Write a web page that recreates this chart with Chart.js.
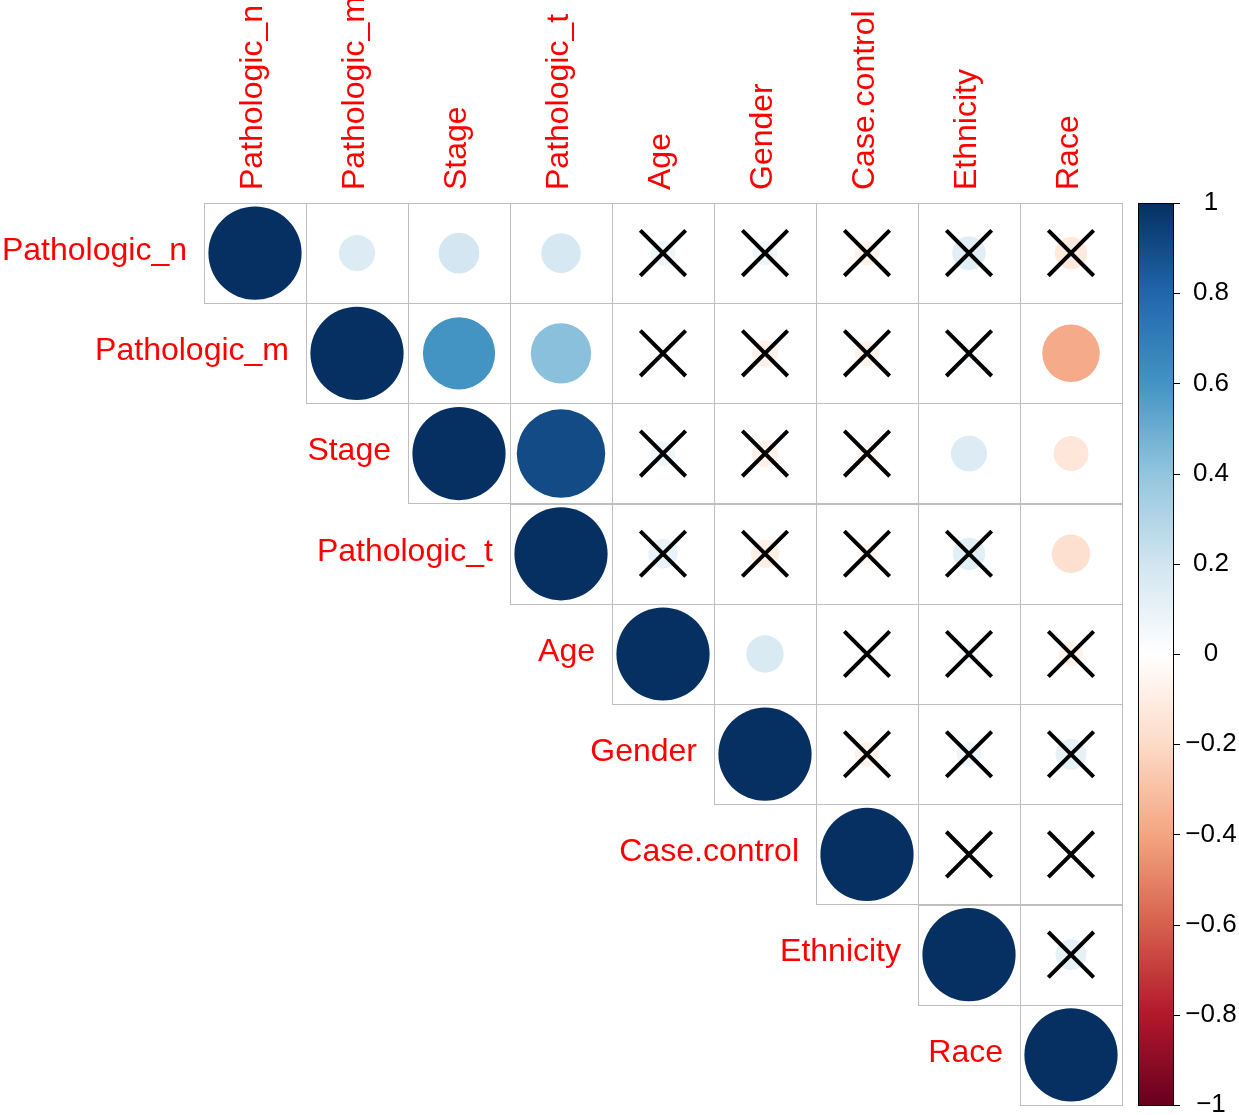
<!DOCTYPE html>
<html>
<head>
<meta charset="utf-8">
<script src="https://cdn.jsdelivr.net/npm/chart.js@4/dist/chart.umd.min.js"></script>
<style>
  html, body { margin: 0; padding: 0; background: #fff; overflow: hidden; }
  canvas { display: block; }
</style>
</head>
<body>
<canvas id="myChart" width="1239" height="1115"></canvas>
<script>
// variables, in plot order
var labels = ['Pathologic_n', 'Pathologic_m', 'Stage', 'Pathologic_t', 'Age', 'Gender', 'Case.control', 'Ethnicity', 'Race'];

// upper triangle of the correlation matrix, row by row (row i starts at column i)
var rowPathN  = [1, 0.15, 0.19, 0.18, 0.07, 0.07, -0.07, 0.13, -0.12];
var rowPathM  = [1, 0.60, 0.42, 0.03, -0.08, -0.07, 0.03, -0.38];
var rowStage  = [1, 0.90, 0.07, -0.08, -0.05, 0.15, -0.14];
var rowPathT  = [1, 0.10, -0.09, -0.05, 0.12, -0.17];
var rowAge    = [1, 0.16, 0.02, 0.05, -0.07];
var rowGender = [1, -0.07, 0.07, 0.11];
var rowCase   = [1, 0.01, 0.01];
var rowEthn   = [1, 0.11];
var rowRace   = [1];
var corrRows = [rowPathN, rowPathM, rowStage, rowPathT, rowAge, rowGender, rowCase, rowEthn, rowRace];

// cells that are not significant (crossed out) as [row, col]
var insig = [
  [0,4],[0,5],[0,6],[0,7],[0,8],
  [1,4],[1,5],[1,6],[1,7],
  [2,4],[2,5],[2,6],
  [3,4],[3,5],[3,6],[3,7],
  [4,6],[4,7],[4,8],
  [5,6],[5,7],[5,8],
  [6,7],[6,8],
  [7,8]
];

var cbTicks = [1, 0.8, 0.6, 0.4, 0.2, 0, -0.2, -0.4, -0.6, -0.8, -1];

// RdBu palette (corrplot COL2)
var palette = ['#67001F', '#B2182B', '#D6604D', '#F4A582', '#FDDBC7', '#FFFFFF',
               '#D1E5F0', '#92C5DE', '#4393C3', '#2166AC', '#053061'];

function hexRgb(h) {
  return [parseInt(h.substr(1, 2), 16), parseInt(h.substr(3, 2), 16), parseInt(h.substr(5, 2), 16)];
}
function corrColor(v) {
  var t = (v + 1) / 2 * (palette.length - 1);
  var i = Math.min(Math.floor(t), palette.length - 2);
  var f = t - i;
  var a = hexRgb(palette[i]), b = hexRgb(palette[i + 1]);
  var c = a.map(function (x, k) { return Math.round(x + (b[k] - x) * f); });
  return 'rgb(' + c.join(',') + ')';
}

var circlePts = [];
corrRows.forEach(function (row, i) {
  row.forEach(function (v, k) {
    circlePts.push({ x: i + k, y: i, v: v });
  });
});
var crossPts = insig.map(function (p) { return { x: p[1], y: p[0] }; });

function cellSize(chart) {
  var a = chart.chartArea;
  if (!a) return 100;
  return Math.min((a.right - a.left) / labels.length, (a.bottom - a.top) / labels.length);
}

var gridPlugin = {
  id: 'corrGrid',
  beforeDatasetsDraw: function (chart) {
    var c = chart.ctx, xs = chart.scales.x, ys = chart.scales.y;
    c.save();
    c.strokeStyle = '#BEBEBE';
    c.lineWidth = 1;
    for (var i = 0; i < labels.length; i++) {
      for (var j = i; j < labels.length; j++) {
        var x0 = xs.getPixelForValue(j - 0.5), x1 = xs.getPixelForValue(j + 0.5);
        var y0 = ys.getPixelForValue(i - 0.5), y1 = ys.getPixelForValue(i + 0.5);
        c.strokeRect(Math.round(x0) + 0.5, Math.round(y0) + 0.5, Math.round(x1 - x0), Math.round(y1 - y0));
      }
    }
    c.restore();
  },
  afterDraw: function (chart) {
    var c = chart.ctx, xs = chart.scales.x, ys = chart.scales.y, a = chart.chartArea;
    c.save();
    c.fillStyle = '#FF0000';
    c.font = '32px "Liberation Sans", Arial, sans-serif';
    // left labels, next to the diagonal
    c.textAlign = 'right';
    c.textBaseline = 'middle';
    labels.forEach(function (lab, i) {
      c.fillText(lab, xs.getPixelForValue(i - 0.5) - 17, ys.getPixelForValue(i) - 2);
    });
    // top labels, rotated
    labels.forEach(function (lab, j) {
      c.save();
      c.translate(xs.getPixelForValue(j) - 2, a.top - 13);
      c.rotate(-Math.PI / 2);
      c.textAlign = 'left';
      c.textBaseline = 'middle';
      c.fillText(lab, 0, 0);
      c.restore();
    });
    // colour bar
    var bx = a.right + 16, bw = 35, by0 = a.top, by1 = a.bottom;
    var g = c.createLinearGradient(0, by1, 0, by0);
    palette.forEach(function (col, k) { g.addColorStop(k / (palette.length - 1), col); });
    c.fillStyle = g;
    c.fillRect(bx, by0, bw, by1 - by0);
    c.strokeStyle = '#000';
    c.lineWidth = 1;
    c.strokeRect(bx + 0.5, by0 + 0.5, bw, by1 - by0);
    c.fillStyle = '#000';
    c.font = '26px "Liberation Sans", Arial, sans-serif';
    c.textAlign = 'center';
    c.textBaseline = 'middle';
    cbTicks.forEach(function (t) {
      var y = by1 - (t + 1) / 2 * (by1 - by0);
      c.beginPath();
      c.moveTo(bx + bw, Math.round(y) + 0.5);
      c.lineTo(bx + bw + 7, Math.round(y) + 0.5);
      c.stroke();
      var txt = t === 0 ? '0' : (t < 0 ? '\u2212' : '') + String(Math.abs(t));
      c.fillText(txt, bx + bw + 38, y);
    });
    c.restore();
  }
};

var ctx = document.getElementById('myChart');
var myChart = new Chart(ctx, {
  type: 'scatter',
  data: {
    datasets: [{
      label: 'insignificant',
      data: crossPts,
      order: 0,
      pointStyle: 'crossRot',
      borderColor: '#000',
      backgroundColor: '#000',
      borderWidth: 4,
      pointRadius: function (c) { return cellSize(c.chart) * 0.32; },
      pointHoverRadius: function (c) { return cellSize(c.chart) * 0.32; }
    }, {
      label: 'corr',
      data: circlePts,
      order: 1,
      pointStyle: 'circle',
      borderWidth: 0,
      backgroundColor: function (c) { return c.raw ? corrColor(c.raw.v) : '#fff'; },
      borderColor: function (c) { return c.raw ? corrColor(c.raw.v) : '#fff'; },
      pointRadius: function (c) {
        return c.raw ? Math.sqrt(Math.abs(c.raw.v)) * cellSize(c.chart) * 0.465 : 0;
      },
      pointHoverRadius: function (c) {
        return c.raw ? Math.sqrt(Math.abs(c.raw.v)) * cellSize(c.chart) * 0.465 : 0;
      }
    }]
  },
  options: {
    responsive: false,
    animation: false,
    events: [],
    layout: {
      autoPadding: false,
      padding: { left: 204, top: 203, right: 117, bottom: 10 }
    },
    scales: {
      x: { type: 'linear', min: -0.5, max: 8.5, display: false },
      y: { type: 'linear', min: -0.5, max: 8.5, reverse: true, display: false }
    },
    plugins: {
      legend: { display: false },
      tooltip: { enabled: false }
    }
  },
  plugins: [gridPlugin]
});
</script>
</body>
</html>
